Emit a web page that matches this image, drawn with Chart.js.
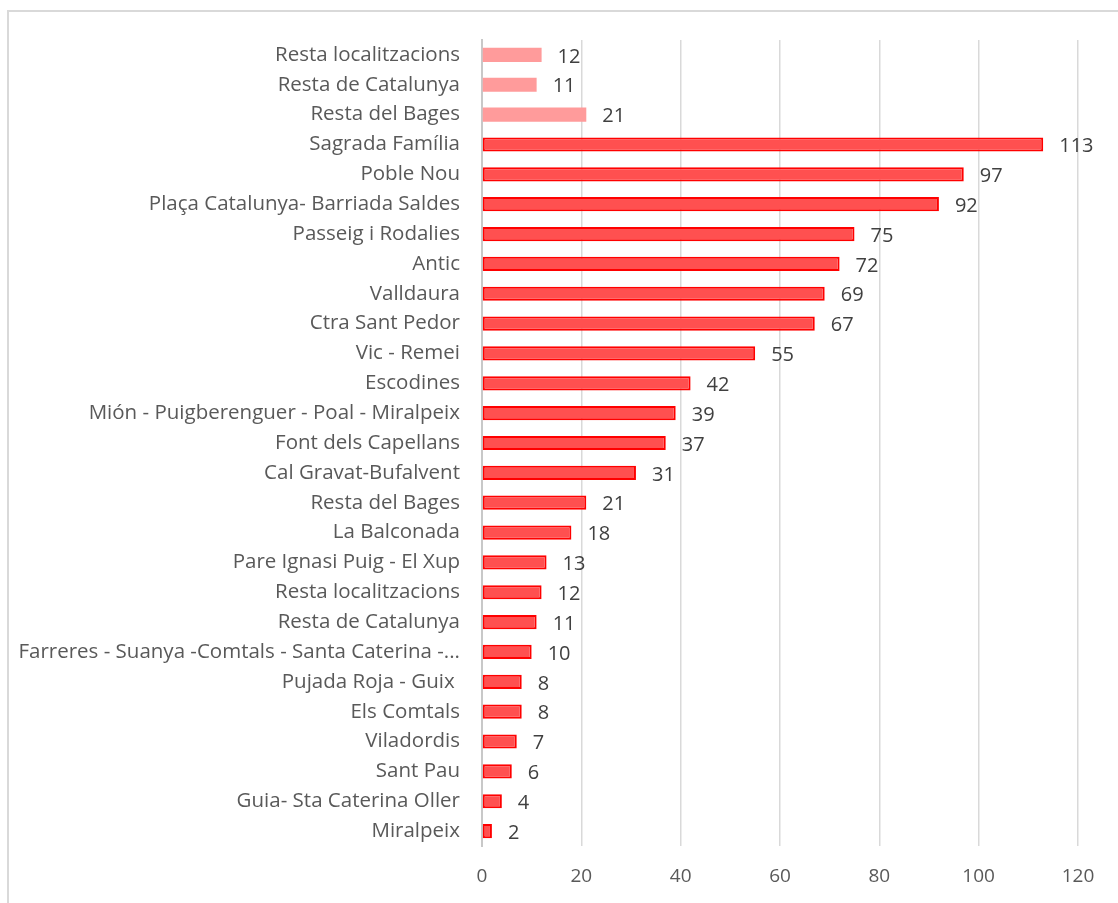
<!DOCTYPE html>
<html>
<head>
<meta charset="utf-8">
<script src="https://cdn.jsdelivr.net/npm/chart.js@4.4.0/dist/chart.umd.min.js"></script>
<style>
  html, body { margin: 0; padding: 0; background: #fff; }
  #wrap { position: relative; width: 1118px; height: 903px; overflow: hidden; }
  #frame { position: absolute; left: 7px; top: 10px; width: 1200px; height: 1000px;
           border-top: 2px solid #d9d9d9; border-left: 2px solid #d9d9d9; }
  canvas { position: absolute; left: 0; top: 0; }
</style>
</head>
<body>
<div id="wrap">
  <div id="frame"></div>
  <canvas id="chart" width="1118" height="903"></canvas>
</div>
<script>
var categories = [
  'Resta localitzacions', 'Resta de Catalunya', 'Resta del Bages',
  'Sagrada Família', 'Poble Nou', 'Plaça Catalunya- Barriada Saldes',
  'Passeig i Rodalies', 'Antic', 'Valldaura', 'Ctra Sant Pedor',
  'Vic - Remei', 'Escodines', 'Mión - Puigberenguer - Poal - Miralpeix',
  'Font dels Capellans', 'Cal Gravat-Bufalvent', 'Resta del Bages',
  'La Balconada', 'Pare Ignasi Puig - El Xup', 'Resta localitzacions',
  'Resta de Catalunya', 'Farreres - Suanya -Comtals - Santa Caterina -...',
  'Pujada Roja - Guix ', 'Els Comtals', 'Viladordis', 'Sant Pau',
  'Guia- Sta Caterina Oller', 'Miralpeix'
];
var values = [12, 11, 21, 113, 97, 92, 75, 72, 69, 67, 55, 42, 39, 37, 31, 21, 18, 13, 12, 11, 10, 8, 8, 7, 6, 4, 2];
// first three rows are the lighter "summary" bars
var highlighted = [true, true, true];
var xTicks = [0, 20, 40, 60, 80, 100, 120];

var red = '#ff5050',
    redLine = '#ff0000',
    pink = '#ff9b9b',
    textCol = '#595959';

var fillColors = values.map(function (v, i) { return highlighted[i] ? pink : red; });
var lineColors = values.map(function (v, i) { return highlighted[i] ? pink : redLine; });
var lineWidths = values.map(function (v, i) { return highlighted[i] ? 0 : 2; });

var FONT = '"Open Sans", Lato, sans-serif';

// value labels next to bar ends
var valueLabels = {
  id: 'valueLabels',
  afterDatasetsDraw: function (chart) {
    var ctx = chart.ctx;
    var meta = chart.getDatasetMeta(0);
    ctx.save();
    ctx.font = '20px ' + FONT;
    ctx.fillStyle = '#404040';
    ctx.textAlign = 'left';
    ctx.textBaseline = 'middle';
    meta.data.forEach(function (bar, i) {
      ctx.fillText(String(values[i]), bar.x + 16, bar.y + 2);
    });
    ctx.restore();
  }
};

new Chart(document.getElementById('chart'), {
  type: 'bar',
  data: {
    labels: categories,
    datasets: [{
      data: values,
      backgroundColor: fillColors,
      borderColor: lineColors,
      borderWidth: lineWidths,
      borderSkipped: false,
      barPercentage: 0.95,
      categoryPercentage: 0.5
    }]
  },
  options: {
    indexAxis: 'y',
    responsive: false,
    animation: false,
    layout: { padding: { top: 40, right: 40, bottom: 0, left: 0 } },
    plugins: { legend: { display: false }, tooltip: { enabled: false } },
    scales: {
      x: {
        min: 0, max: 120,
        afterBuildTicks: function (axis) {
          axis.ticks = xTicks.map(function (v) { return { value: v }; });
        },
        afterFit: function (axis) { axis.height = 57; },
        grid: { color: '#d9d9d9', lineWidth: 1.5, drawTicks: false },
        border: { display: false },
        ticks: { color: textCol, font: { family: FONT, size: 19 }, padding: 19 }
      },
      y: {
        afterFit: function (axis) { axis.width = 482; },
        grid: { display: false, drawTicks: false },
        border: { display: true, color: '#c8c8c8', width: 2 },
        ticks: { color: textCol, font: { family: FONT, size: 20.5 }, padding: 22, autoSkip: false }
      }
    }
  },
  plugins: [valueLabels]
});
</script>
</body>
</html>
